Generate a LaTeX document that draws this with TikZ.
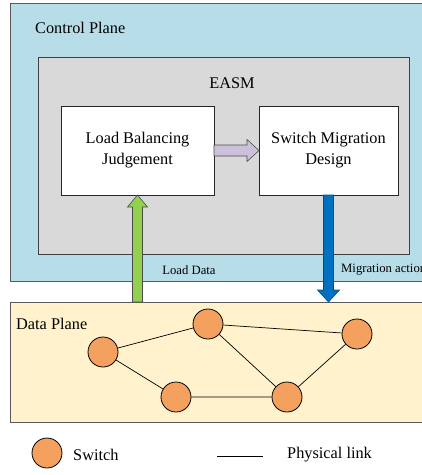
\documentclass[tikz,border=0pt]{standalone}
\usepackage{fontspec}
\setmainfont{Liberation Serif}
\usepackage{tikz}
\usetikzlibrary{shapes,arrows,calc}

\definecolor{cpblue}{RGB}{183,221,232}
\definecolor{easmgray}{RGB}{217,217,217}
\definecolor{dpyellow}{RGB}{255,242,204}
\definecolor{swcolor}{RGB}{244,161,96}
\definecolor{lbjpurple}{RGB}{204,193,218}
\definecolor{loadgreen}{RGB}{146,208,80}
\definecolor{migblue}{RGB}{0,112,192}

\tikzset{
  plane/.style={draw=black!65, line width=0.8pt, inner sep=0pt, outer sep=0pt, anchor=north west},
  block/.style={draw=black!85, fill=white, line width=0.8pt, inner sep=0pt, outer sep=0pt,
                minimum width=153pt, minimum height=89pt, align=center,
                font=\fontsize{16.3}{21}\selectfont},
  switch/.style={circle, draw=black, fill=swcolor, line width=0.8pt, minimum size=30pt, inner sep=0pt},
  bigtext/.style={font=\fontsize{16.3}{20}\selectfont, inner sep=0pt},
  smalltext/.style={font=\fontsize{12.7}{15}\selectfont, inner sep=0pt},
  blockarrow/.style={draw=black!70, line width=0.6pt}
}

\begin{document}
\begin{tikzpicture}[x=1pt,y=-1pt]
   \useasboundingbox (0,0) rectangle (422,475);
   \clip (0,0) rectangle (422,475);

   % planes
   \node[plane, fill=cpblue, minimum width=425pt, minimum height=278pt] (cp) at (10,3) {};
   \node[plane, fill=dpyellow, minimum width=425pt, minimum height=120pt] (dp) at (10,302) {};
   \node[plane, draw=black!75, fill=easmgray, minimum width=371pt, minimum height=197pt] (easm) at (38,57) {};
   \node[bigtext, anchor=west] (cptext) at (35,28) {Control Plane};
   \node[bigtext, anchor=west] (dptext) at (16,324) {Data Plane};
   \node[bigtext] (easmtext) at (232,83) {EASM};

   % modules
   \node[block] (lbj) at (137.5,150.5) {Load Balancing\\Judgement};
   \node[block, minimum width=139pt] (smd) at (328.5,150.5) {Switch Migration\\Design};

   % block arrows
   \filldraw[blockarrow, fill=lbjpurple]
      ($(lbj.east)+(0,-5.5)$) -- ($(smd.west)+(-12,-5.5)$) -- ($(smd.west)+(-12,-11)$)
      -- (smd.west) -- ($(smd.west)+(-12,11)$) -- ($(smd.west)+(-12,5.5)$)
      -- ($(lbj.east)+(0,5.5)$) -- cycle;
   \filldraw[blockarrow, fill=loadgreen]
      ($(lbj.south |- dp.north)+(-5,0)$) -- ($(lbj.south)+(-5,12)$) -- ($(lbj.south)+(-10,12)$)
      -- (lbj.south) -- ($(lbj.south)+(10,12)$) -- ($(lbj.south)+(5,12)$)
      -- ($(lbj.south |- dp.north)+(5,0)$) -- cycle;
   \filldraw[blockarrow, draw=migblue!70!black, fill=migblue]
      ($(smd.south)+(-5,0)$) -- ($(smd.south |- dp.north)+(-5,-12)$) -- ($(smd.south |- dp.north)+(-11,-12)$)
      -- (smd.south |- dp.north) -- ($(smd.south |- dp.north)+(11,-12)$) -- ($(smd.south |- dp.north)+(5,-12)$)
      -- ($(smd.south)+(5,0)$) -- cycle;
   \node[smalltext] (loaddata) at (189,270) {Load Data};
   \node[smalltext, anchor=west] (migaction) at (341,270) {Migration action};

   % switches
   \node[switch] (s1) at (103,352) {};
   \node[switch] (s2) at (208,324) {};
   \node[switch] (s3) at (357,334) {};
   \node[switch] (s4) at (176,397) {};
   \node[switch] (s5) at (287,397) {};
   \draw[line width=0.7pt] (s1) -- (s2) -- (s3);
   \draw[line width=0.7pt] (s1) -- (s4) -- (s5) -- (s3);
   \draw[line width=0.7pt] (s2) -- (s5);

   % legend
   \node[switch] (legsw) at (47,453) {};
   \node[bigtext, anchor=west] (legswtext) at (73,455) {Switch};
   \coordinate (linka) at (217,456);
   \coordinate (linkb) at (263,456);
   \draw[line width=0.7pt] (linka) -- (linkb);
   \node[bigtext, anchor=west] (legline) at (287,455) {Physical link};
\end{tikzpicture}
\end{document}
